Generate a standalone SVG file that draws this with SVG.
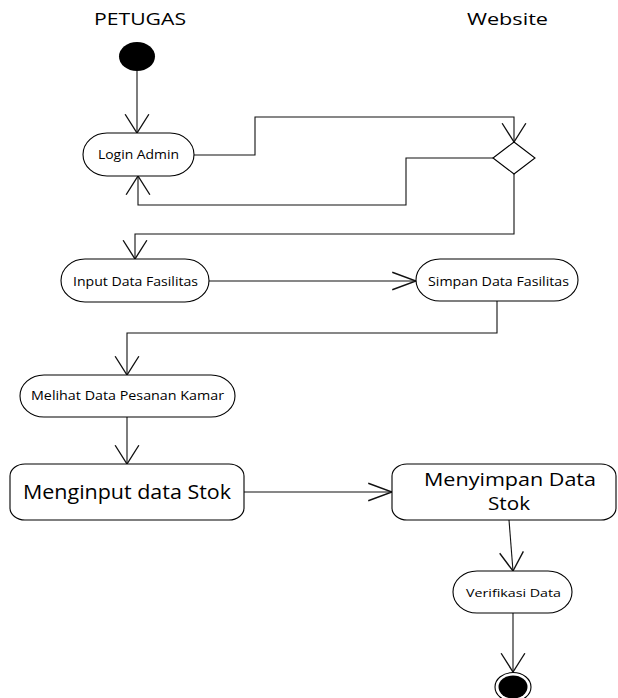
<svg xmlns="http://www.w3.org/2000/svg" width="618" height="698" viewBox="0 0 618 698">
<defs>
<style>
.n{fill:#fff;stroke:#000;stroke-width:1.1}
.t{font-family:"Open Sans","Noto Sans",sans-serif;fill:#000}
.c{fill:none;stroke:#111;stroke-width:1.1}
</style>
<marker id="av" markerUnits="userSpaceOnUse" markerWidth="30" markerHeight="30" viewBox="-20 -12 22 24" refX="0" refY="0" orient="auto" overflow="visible">
<path d="M-15,-9.5 L0,0 L-15,9.5" fill="none" stroke="#111" stroke-width="1.1"/>
</marker>
<marker id="ah" markerUnits="userSpaceOnUse" markerWidth="30" markerHeight="30" viewBox="-20 -12 22 24" refX="0" refY="0" orient="auto" overflow="visible">
<path d="M-19,-7 L0,0 L-19,7" fill="none" stroke="#111" stroke-width="1.1"/>
</marker>
</defs>
<rect width="618" height="698" fill="#fff"/>
<g id="lanes">
<text class="t" x="94" y="25" font-size="16" textLength="92" lengthAdjust="spacingAndGlyphs">PETUGAS</text>
<text class="t" x="467" y="25" font-size="16" textLength="81" lengthAdjust="spacingAndGlyphs">Website</text>
</g>
<g id="connectors">
<path class="c" d="M137,71 L137,133" marker-end="url(#av)"/>
<path class="c" d="M194,155 L255,155 L255,117 L514,117 L514,142" marker-end="url(#av)"/>
<path class="c" d="M493,158 L406,158 L406,205 L138,205 L138,176" marker-end="url(#av)"/>
<path class="c" d="M514,174 L514,234 L135,234 L135,259" marker-end="url(#av)"/>
<path class="c" d="M209,281 L416,281" marker-end="url(#ah)"/>
<path class="c" d="M497,301 L497,333 L127,333 L127,375" marker-end="url(#av)"/>
<path class="c" d="M127,417 L127,464" marker-end="url(#av)"/>
<path class="c" d="M244,492 L392,492" marker-end="url(#ah)"/>
<path class="c" d="M509,520 L513,571" marker-end="url(#av)"/>
<path class="c" d="M513,613 L513,672" marker-end="url(#av)"/>
</g>
<g id="start">
<ellipse cx="137" cy="56.5" rx="18" ry="14.5" fill="#000"/>
</g>
<g id="login">
<rect class="n" x="83" y="133" width="111" height="43" rx="24" ry="21.5"/>
<text class="t" x="98" y="159" font-size="13" textLength="81" lengthAdjust="spacingAndGlyphs">Login Admin</text>
</g>
<g id="decision">
<polygon class="n" points="514,142 535,158 514,174 493,158"/>
</g>
<g id="input">
<rect class="n" x="61" y="259" width="148" height="43" rx="24" ry="21.5"/>
<text class="t" x="73" y="286" font-size="12.5" textLength="125" lengthAdjust="spacingAndGlyphs">Input Data Fasilitas</text>
</g>
<g id="simpan">
<rect class="n" x="416" y="259" width="162" height="42" rx="24" ry="21"/>
<text class="t" x="428" y="286" font-size="12.5" textLength="141" lengthAdjust="spacingAndGlyphs">Simpan Data Fasilitas</text>
</g>
<g id="melihat">
<rect class="n" x="20" y="375" width="215" height="42" rx="24" ry="21"/>
<text class="t" x="31" y="400" font-size="12" textLength="193" lengthAdjust="spacingAndGlyphs">Melihat Data Pesanan Kamar</text>
</g>
<g id="menginput">
<rect class="n" x="10" y="464" width="234" height="56" rx="15" ry="12"/>
<text class="t" x="23" y="499" font-size="19.5" textLength="208" lengthAdjust="spacingAndGlyphs">Menginput data Stok</text>
</g>
<g id="menyimpan">
<rect class="n" x="392" y="464" width="224" height="56" rx="15" ry="12"/>
<text class="t" x="424" y="486" font-size="17.5" textLength="172" lengthAdjust="spacingAndGlyphs">Menyimpan Data</text>
<text class="t" x="488" y="510" font-size="17.5" textLength="42" lengthAdjust="spacingAndGlyphs">Stok</text>
</g>
<g id="verifikasi">
<rect class="n" x="453" y="571" width="119" height="42" rx="24" ry="21"/>
<text class="t" x="466" y="597" font-size="11.5" textLength="95" lengthAdjust="spacingAndGlyphs">Verifikasi Data</text>
</g>
<g id="end">
<ellipse cx="513" cy="687" rx="18" ry="14.5" fill="#fff" stroke="#000" stroke-width="1.1"/>
<ellipse cx="513" cy="687" rx="14.5" ry="11.5" fill="#000"/>
</g>
</svg>
